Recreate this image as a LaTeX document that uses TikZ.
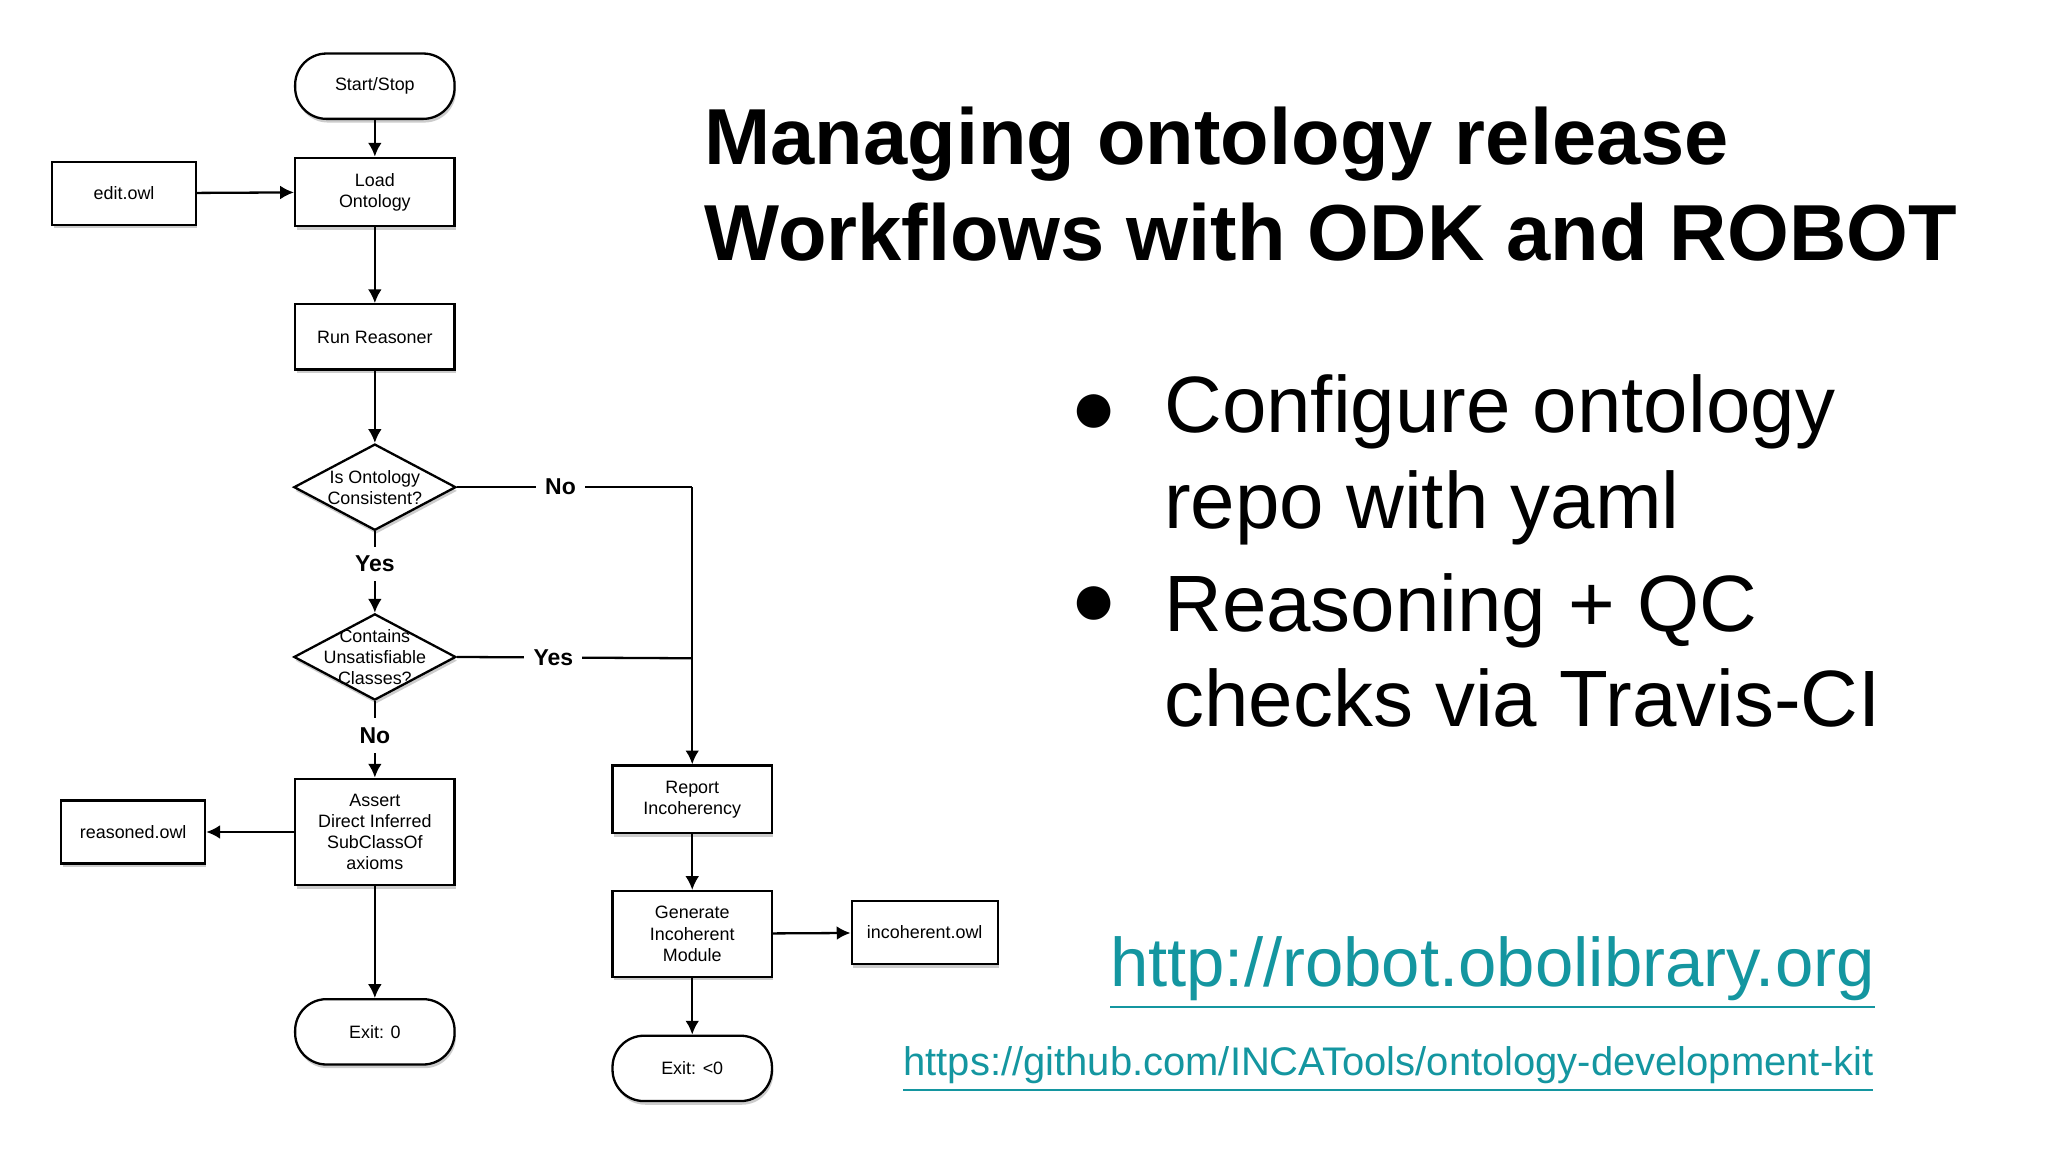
\documentclass[tikz,border=0pt]{standalone}
\usepackage{fontspec}
\setmainfont{Liberation Sans}
\usetikzlibrary{shapes.geometric,arrows.meta,shadows}
\definecolor{teal1}{RGB}{20,150,160}
\begin{document}
\begin{tikzpicture}[x=0.01cm,y=-0.01cm,
  box/.style={draw,fill=white,minimum width=1.22cm,minimum height=0.5cm,align=center,font=\fontsize{3.9}{4.6}\selectfont,line width=0.5pt,drop shadow={shadow xshift=0.3pt,shadow yshift=-0.8pt,opacity=0.4}},
  fbox/.style={box,minimum width=1.1cm,minimum height=0.48cm},
  term/.style={box,rounded corners=0.24cm},
  dia/.style={draw,fill=white,diamond,aspect=1.9,minimum width=1.24cm,minimum height=0.66cm,align=center,font=\fontsize{3.9}{4.6}\selectfont,line width=0.5pt,drop shadow={shadow xshift=0.3pt,shadow yshift=-0.8pt,opacity=0.4}},
  lab/.style={fill=white,font=\bfseries\fontsize{5}{6}\selectfont,inner sep=2pt},
  arr/.style={-{Latex[length=3pt,width=3pt]},line width=0.5pt},
  ln/.style={line width=0.5pt}]
\useasboundingbox (0,0) rectangle (1568,882);
\node[term] (start) at (287,66) {Start/Stop};
\node[fbox] (edit) at (95,148) {edit.owl};
\node[box] (load) at (287,147) {Load\\Ontology};
\node[box] (run) at (287,258) {Run Reasoner};
\node[dia,inner sep=-3pt] (d1) at (287,373) {Is Ontology\\Consistent?};
\node[dia,inner sep=-7pt] (d2) at (287,503) {Contains\\Unsatisfiable\\Classes?};
\node[box,minimum height=0.65cm] (assert) at (287,637) {Assert\\Direct Inferred\\SubClassOf\\axioms};
\node[fbox] (reas) at (102,637) {reasoned.owl};
\node[term] (exit0) at (287,790) {Exit: 0};
\node[box] (report) at (530,612) {Report\\Incoherency};
\node[box] (gen) at (530,715) {Generate\\Incoherent\\Module};
\node[fbox] (inc) at (708,714) {incoherent.owl};
\node[term] (exitn) at (530,818) {Exit: <0};
\coordinate (c1) at (530,373);
\coordinate (c2) at (530,504);
\draw[arr] (start) -- (load);
\draw[arr] (edit) -- (load);
\draw[arr] (load) -- (run);
\draw[arr] (run) -- (d1);
\draw[arr] (d1) -- node[lab,pos=0.4]{Yes} (d2);
\draw[arr] (d2) -- node[lab,pos=0.45]{No} (assert);
\draw[arr] (assert) -- (reas);
\draw[arr] (assert) -- (exit0);
\draw[ln] (d1.east) -- node[lab,pos=0.44]{No} (c1);
\draw[arr] (c1) -- (report);
\draw[ln] (d2.east) -- node[lab,pos=0.41]{Yes} (c2);
\draw[arr] (report) -- (gen);
\draw[arr] (gen) -- (inc);
\draw[arr] (gen) -- (exitn);
\node[anchor=west,align=left,font=\bfseries\fontsize{17.3}{20.8}\selectfont] (title) at (527,141) {Managing ontology release\\Workflows with ODK and ROBOT};
\node[anchor=west,align=left,font=\fontsize{17.4}{20.8}\selectfont] (b1) at (879,352) {Configure ontology\\repo with yaml};
\node[anchor=west,align=left,font=\fontsize{17.4}{20.8}\selectfont] (b2) at (879,498) {Reasoning + QC\\checks via Travis-CI};
\node[font=\fontsize{17}{20}\selectfont] at (838,317) {●};
\node[font=\fontsize{17}{20}\selectfont] at (838,464) {●};
\node[anchor=east,text=teal1,font=\fontsize{15}{18}\selectfont,inner sep=0pt] (l1) at (1436,745) {\underline{http://robot.obolibrary.org}};
\node[anchor=east,text=teal1,font=\fontsize{8.7}{10}\selectfont,inner sep=0pt] (l2) at (1435,819) {\underline{https://github.com/INCATools/ontology-development-kit}};
\end{tikzpicture}
\end{document}
